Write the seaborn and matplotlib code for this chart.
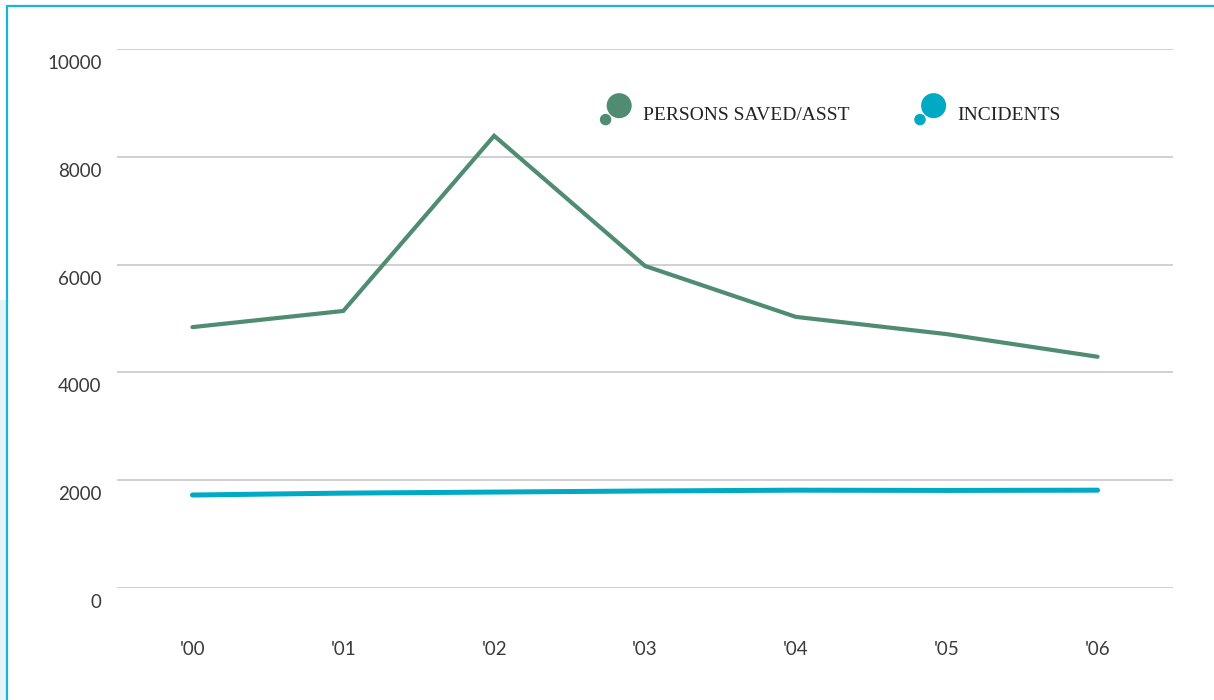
import matplotlib
matplotlib.use("Agg")
import matplotlib.pyplot as plt
import matplotlib.transforms as mtrans
import seaborn as sns
import pandas as pd
from matplotlib.legend_handler import HandlerBase
from matplotlib.patches import Circle, Rectangle
from matplotlib.lines import Line2D

# Annual figures
years = ["'00", "'01", "'02", "'03", "'04", "'05", "'06"]
persons_saved = [4840, 5140, 8390, 5975, 5030, 4710, 4290]
incidents = [1725, 1760, 1780, 1800, 1815, 1810, 1815]
series_names = ["PERSONS SAVED/ASST", "INCIDENTS"]
y_ticks = [0, 2000, 4000, 6000, 8000, 10000]

green = "#4f8c72"
cyan = "#00a9c4"

df = pd.DataFrame({
    "year": years * 2,
    "idx": list(range(len(years))) * 2,
    "value": persons_saved + incidents,
    "series": [series_names[0]] * len(years) + [series_names[1]] * len(years),
})

sns.set_theme(style="white")
plt.rcParams["font.family"] = ["Lato", "DejaVu Sans"]

fig = plt.figure(figsize=(12.14, 7.0), dpi=100)
ax = fig.add_axes([117 / 1214, 1 - 588 / 700, (1173 - 117) / 1214, (588 - 49) / 700])

sns.lineplot(data=df, x="idx", y="value", hue="series",
             palette={series_names[0]: green, series_names[1]: cyan},
             linewidth=3.2, ax=ax, legend=False)
for ln, lw in zip(ax.get_lines(), [3.0, 3.6]):
    ln.set_linewidth(lw)
    ln.set_solid_joinstyle("miter")

ax.set_xlim(-0.5, len(years) - 0.5)
ax.set_ylim(0, 10000)
ax.set_yticks(y_ticks)
ax.set_yticklabels([str(t) for t in y_ticks])
ax.set_xticks(range(len(years)))
ax.set_xticklabels(years)
ax.set_xlabel("")
ax.set_ylabel("")
for s in ax.spines.values():
    s.set_visible(False)
ax.grid(axis="y", color="#c4c4c4", linewidth=1.1)
ax.grid(axis="x", visible=False)
ax.set_axisbelow(True)
ax.tick_params(axis="both", length=0, labelsize=13.5, labelcolor="#3a3a3a")
ax.tick_params(axis="y", pad=11)
ax.tick_params(axis="x", pad=38)
# y labels sit just below their gridlines
offset = mtrans.ScaledTranslation(0, -6 / 100, fig.dpi_scale_trans)
for lbl in ax.get_yticklabels():
    lbl.set_verticalalignment("top")
    lbl.set_transform(lbl.get_transform() + offset)


class DoubleDotHandler(HandlerBase):
    def __init__(self, color):
        super().__init__()
        self.color = color

    def create_artists(self, legend, orig_handle, xdescent, ydescent,
                       width, height, fontsize, trans):
        big = Circle((width * 0.62, height * 0.8), radius=height * 0.72,
                     facecolor=self.color, edgecolor="none", transform=trans)
        small = Circle((width * 0.12, height * 0.0), radius=height * 0.33,
                       facecolor=self.color, edgecolor="none", transform=trans)
        return [big, small]


h1 = Line2D([], [], color=green)
h2 = Line2D([], [], color=cyan)
leg = ax.legend([h1, h2], series_names, loc="upper left",
                bbox_to_anchor=(0.443, 0.93), ncol=2, frameon=False,
                handler_map={h1: DoubleDotHandler(green), h2: DoubleDotHandler(cyan)},
                handlelength=1.4, handleheight=1.0, handletextpad=0.7,
                columnspacing=3.45,
                prop={"family": "Liberation Serif", "size": 14})
for t in leg.get_texts():
    t.set_color("#222222")

# Page frame
fig.patches.append(Rectangle((0, 0), 6 / 1214, 1 - 300 / 700, transform=fig.transFigure,
                             facecolor="#e6f4f8", edgecolor="none", zorder=0))
fig.lines.append(Line2D([7 / 1214, 1], [1 - 6 / 700, 1 - 6 / 700], transform=fig.transFigure,
                        color="#1ab4d6", linewidth=1.6))
fig.lines.append(Line2D([7 / 1214, 7 / 1214], [0, 1 - 6 / 700], transform=fig.transFigure,
                        color="#1ab4d6", linewidth=1.6))

fig.savefig("out.png", dpi=100)
